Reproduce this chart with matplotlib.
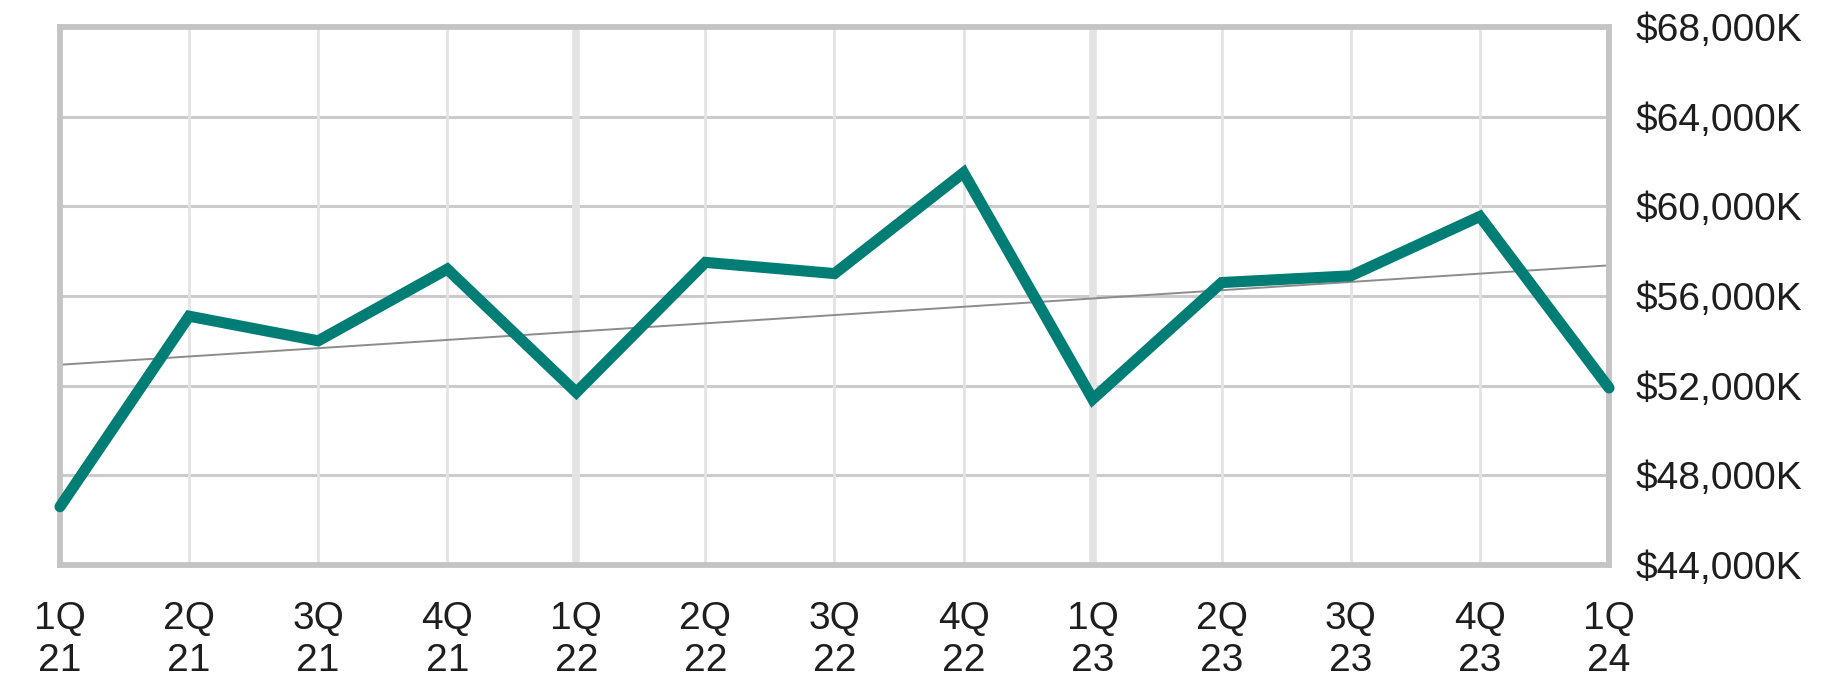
import matplotlib
matplotlib.use("Agg")
import matplotlib.pyplot as plt
import numpy as np
from matplotlib.ticker import FuncFormatter

quarters = ["1Q\n21", "2Q\n21", "3Q\n21", "4Q\n21", "1Q\n22", "2Q\n22", "3Q\n22",
            "4Q\n22", "1Q\n23", "2Q\n23", "3Q\n23", "4Q\n23", "1Q\n24"]
values_k = [46600, 55100, 54000, 57200, 51700, 57500, 57000,
            61500, 51400, 56600, 56900, 59550, 51900]
y_ticks = [44000, 48000, 52000, 56000, 60000, 64000, 68000]

plt.rcParams['font.family'] = ['Liberation Sans', 'DejaVu Sans']

fig = plt.figure(figsize=(18.24, 6.91), dpi=100)
ax = fig.add_axes([60/1824, 1-565/691, (1609-60)/1824, (565-27)/691])

x = np.arange(len(values_k))

# grid
for yt in y_ticks[1:-1]:
    ax.axhline(yt, color='#cbcbcb', lw=2.2, zorder=1)
for i in x[1:-1]:
    if quarters[i].startswith("1Q"):
        ax.axvline(i, color='#e3e3e3', lw=5.5, zorder=1)
    else:
        ax.axvline(i, color='#e3e3e3', lw=2.0, zorder=1)

# trend line
coef = np.polyfit(x, values_k, 1)
ax.plot([x[0], x[-1]], np.polyval(coef, [x[0], x[-1]]), color='#8c8c8c', lw=1.4, zorder=2)

# main series
ax.plot(x, values_k, color='#007d74', lw=8, solid_joinstyle='miter',
        solid_capstyle='round', zorder=3, clip_on=False)

ax.set_xlim(0, len(values_k) - 1)
ax.set_ylim(y_ticks[0], y_ticks[-1])
ax.set_xticks(x)
ax.set_xticklabels(quarters, linespacing=1.2)
ax.set_yticks(y_ticks)
ax.yaxis.set_major_formatter(FuncFormatter(lambda v, p: f"${v:,.0f}K"))
ax.yaxis.tick_right()
ax.tick_params(axis='y', length=0, pad=19, labelsize=28, labelcolor='#1e1e1e')
ax.tick_params(axis='x', length=0, pad=26, labelsize=28, labelcolor='#1e1e1e')

for s in ax.spines.values():
    s.set_color('#c4c4c4')
    s.set_linewidth(4.2)
    s.set_zorder(2.5)

fig.savefig("out.png", dpi=100)
